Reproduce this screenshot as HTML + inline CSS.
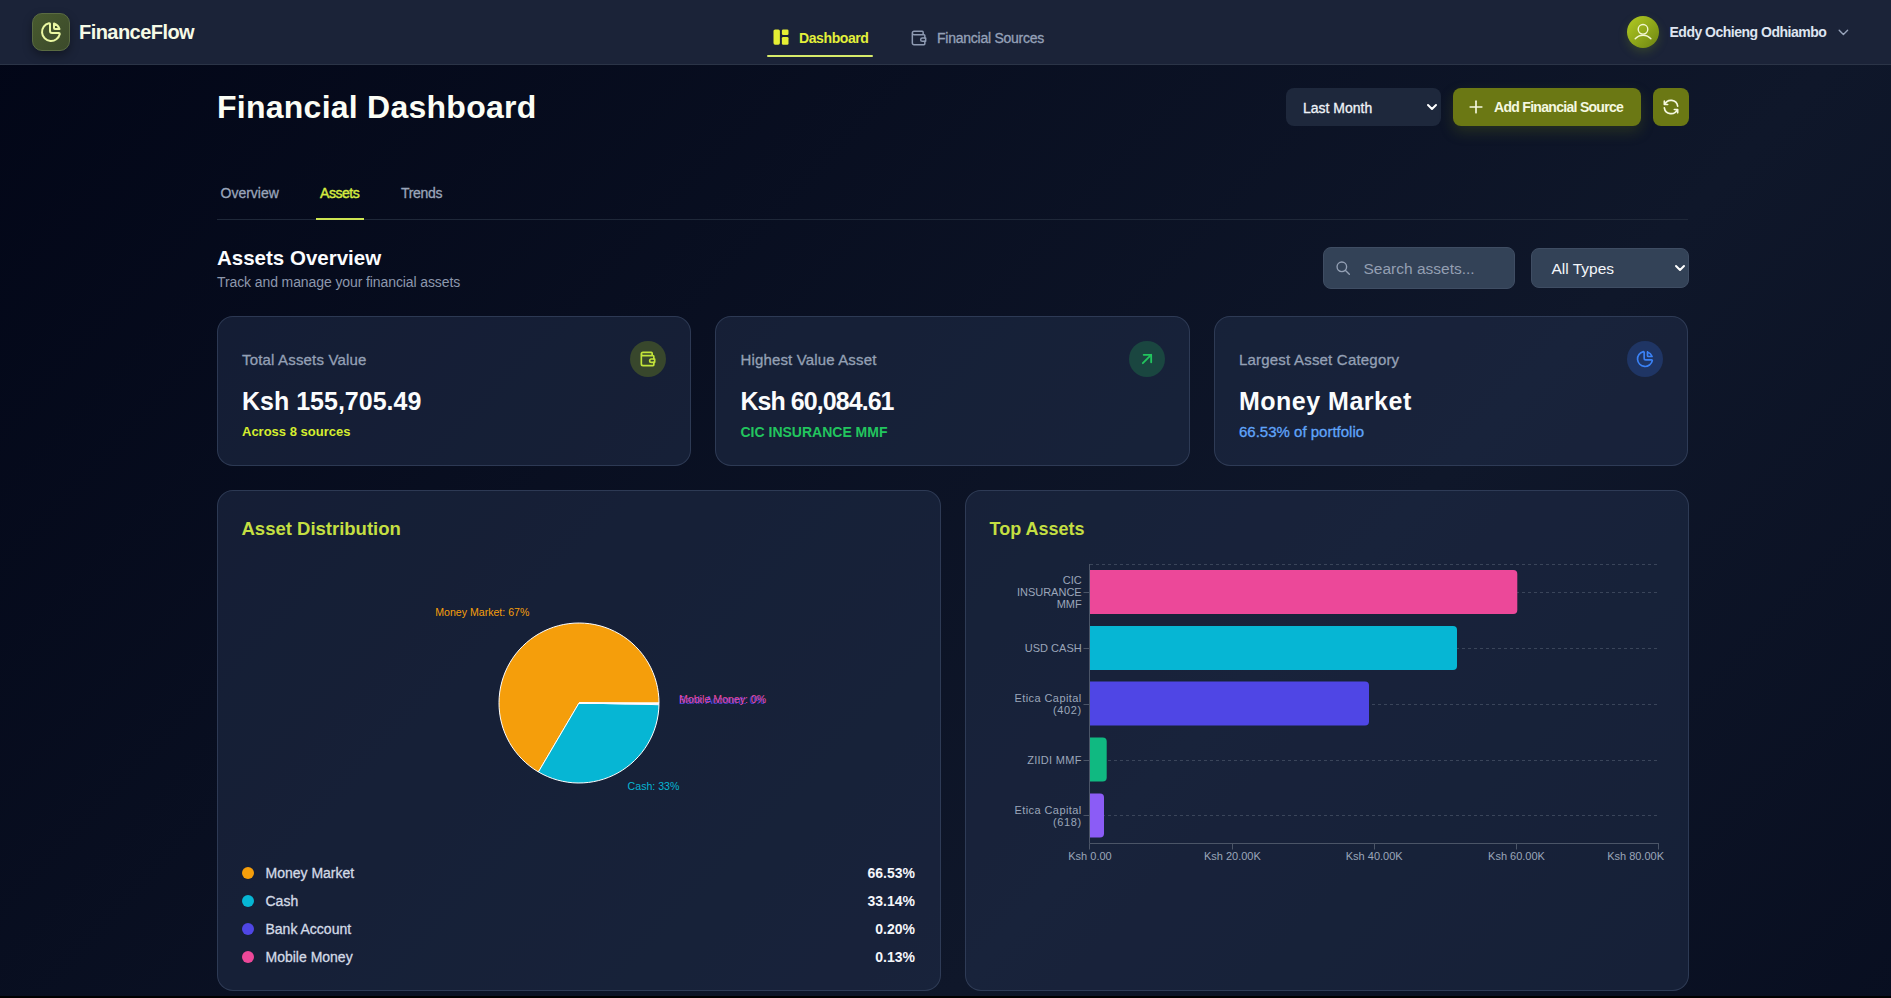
<!DOCTYPE html>
<html lang="en">
<head>
<meta charset="utf-8">
<title>FinanceFlow - Financial Dashboard</title>
<style>
*{box-sizing:border-box;margin:0;padding:0}
html,body{width:1891px;height:998px;overflow:hidden;background:#000}
body{position:relative;font-family:"Liberation Sans",Arial,sans-serif;color:#fff}
#bgw{position:absolute;left:0;top:0;width:1891px;height:996px;overflow:hidden}
#bg{position:absolute;left:0;top:0;width:1891px;height:2000px;background:linear-gradient(to bottom right,#020617,#0f172a,#020617)}
.a{position:absolute}
.t{position:absolute;line-height:1;white-space:nowrap}
.m{-webkit-text-stroke:0.3px currentColor}
header{position:absolute;left:0;top:0;width:1891px;height:65px;background:#1b2338;border-bottom:1px solid #2b3447}
.card{position:absolute;border-radius:16px;background:rgba(32,45,72,.55);border:1px solid rgba(75,90,120,.45)}
</style>
</head>
<body>
<div id="bgw"><div id="bg"></div></div>

<header>
  <!-- logo -->
  <div class="a" style="left:32px;top:13px;width:38px;height:38px;border-radius:10px;background:linear-gradient(135deg,#485a2e,#3b4a2b);border:1px solid #5a6b42;box-shadow:0 4px 10px rgba(0,0,0,.35)">
    <svg class="a" style="left:6px;top:6px" width="24" height="24" viewBox="0 0 24 24" fill="none" stroke-linecap="round" stroke-linejoin="round" stroke="#eaf7a2" stroke-width="2"><path d="M10 3.2a9 9 0 1 0 10.8 10.8a1 1 0 0 0 -1 -1h-6.8a2 2 0 0 1 -2 -2v-7a.9 .9 0 0 0 -1 -.8"/><path d="M15 3.5a9 9 0 0 1 5.5 5.5h-4.5a1 1 0 0 1 -1 -1v-4.5"/></svg>
  </div>
  <div class="t" style="left:79px;top:22px;font-size:20px;font-weight:bold;color:#f6fae6;letter-spacing:-0.55px">FinanceFlow</div>

  <!-- nav -->
  <svg class="a" style="left:773px;top:29px" width="16" height="16" viewBox="0 0 16 16" fill="#e4ee34"><rect x="0.5" y="0.4" width="6.4" height="15.3" rx="1.6"/><rect x="8.9" y="0.4" width="6.6" height="5.7" rx="1.3"/><rect x="8.9" y="8" width="6.6" height="7.7" rx="1.3"/></svg>
  <div class="t" style="left:799px;top:30.5px;font-size:14px;font-weight:bold;color:#e3f03a;letter-spacing:-0.4px">Dashboard</div>
  <div class="a" style="left:767px;top:55px;width:106px;height:2px;background:#d6ea6a;border-radius:1px"></div>

  <svg class="a" style="left:908.6px;top:27.8px" width="20" height="20" viewBox="0 0 24 24" fill="none" stroke-linecap="round" stroke-linejoin="round" stroke="#8f9bb3" stroke-width="1.8"><path d="M17 8v-3a1 1 0 0 0 -1 -1h-10a2 2 0 0 0 0 4h12a1 1 0 0 1 1 1v3m0 4v3a1 1 0 0 1 -1 1h-12a2 2 0 0 1 -2 -2v-12"/><path d="M20 12v4h-4a2 2 0 0 1 0 -4h4"/></svg>
  <div class="t m" style="left:937px;top:31px;font-size:14px;color:#95a1b8;letter-spacing:-0.25px">Financial Sources</div>

  <!-- user -->
  <div class="a" style="left:1627px;top:16px;width:32px;height:32px;border-radius:50%;background:linear-gradient(135deg,#b3cc22,#6d8412);box-shadow:0 4px 10px rgba(120,150,20,.25)">
    <svg class="a" style="left:0;top:0" width="32" height="32" viewBox="0 0 32 32" fill="none" stroke-linecap="round" stroke-linejoin="round" stroke="#f3f7d2" stroke-width="1.4"><circle cx="16" cy="13.3" r="4.8"/><path d="M8.2 22.8A10.4 10.4 0 0 1 23.9 22.8"/></svg>
  </div>
  <div class="t" style="left:1669.5px;top:24.5px;font-size:14px;font-weight:bold;color:#dfe5f0;letter-spacing:-0.5px">Eddy Ochieng Odhiambo</div>
  <svg class="a" style="left:1834.5px;top:23.7px" width="16.8" height="16.8" viewBox="0 0 24 24" fill="none" stroke-linecap="round" stroke-linejoin="round" stroke="#97a3ba" stroke-width="2"><path d="M6 9l6 6l6 -6"/></svg>
</header>

<div id="main">
  <div class="t" style="left:217px;top:91px;font-size:32px;font-weight:bold;color:#fbfdf5;letter-spacing:0.25px">Financial Dashboard</div>

  <!-- period select -->
  <div class="a" style="left:1286px;top:88px;width:155px;height:38px;border-radius:8px;background:#1e283c"></div>
  <div class="t m" style="left:1303px;top:100.5px;font-size:14px;color:#eef2f8">Last Month</div>
  <svg class="a" style="left:1426px;top:102px" width="12" height="10" viewBox="0 0 12 10" fill="none" stroke="#fff" stroke-width="2" stroke-linecap="round" stroke-linejoin="round"><path d="M2 3l4 4 4-4"/></svg>

  <!-- add button -->
  <div class="a" style="left:1453px;top:88px;width:188px;height:38px;border-radius:8px;background:#6b7814;box-shadow:0 6px 14px rgba(107,122,18,.25)"></div>
  <svg class="a" style="left:1466px;top:97px" width="20" height="20" viewBox="0 0 24 24" fill="none" stroke-linecap="round" stroke-linejoin="round" stroke="#f5f8e0" stroke-width="2"><path d="M12 5l0 14"/><path d="M5 12l14 0"/></svg>
  <div class="t" style="left:1494px;top:99.8px;font-size:14px;font-weight:bold;color:#f5f8e0;letter-spacing:-0.7px">Add Financial Source</div>

  <!-- refresh -->
  <div class="a" style="left:1653px;top:88px;width:36px;height:38px;border-radius:8px;background:#6b7814"></div>
  <svg class="a" style="left:1661px;top:96.9px" width="20" height="20" viewBox="0 0 24 24" fill="none" stroke-linecap="round" stroke-linejoin="round" stroke="#f5f8e0" stroke-width="2"><path d="M20 11a8.1 8.1 0 0 0 -15.5 -2m-.5 -4v4h4"/><path d="M4 13a8.1 8.1 0 0 0 15.5 2m.5 4v-4h-4"/></svg>

  <!-- tabs -->
  <div class="t m" style="left:220.5px;top:185.5px;font-size:14px;color:#9aa5ba">Overview</div>
  <div class="t" style="left:320px;top:185.5px;font-size:14px;color:#d6ec40;-webkit-text-stroke:0.45px #d6ec40;letter-spacing:-0.45px">Assets</div>
  <div class="t m" style="left:401px;top:185.5px;font-size:14px;color:#9aa5ba;letter-spacing:-0.3px">Trends</div>
  <div class="a" style="left:217px;top:219px;width:1471px;height:1px;background:#1f2839"></div>
  <div class="a" style="left:316px;top:218px;width:48px;height:2px;background:#cde452"></div>

  <!-- section header -->
  <div class="t" style="left:217px;top:248px;font-size:20.5px;font-weight:bold;color:#fbfcfe">Assets Overview</div>
  <div class="t" style="left:217px;top:275px;font-size:14px;color:#8d98ad;letter-spacing:-0.1px">Track and manage your financial assets</div>

  <div class="a" style="left:1323px;top:247px;width:192px;height:42px;border-radius:8px;background:#334257;border:1px solid #3f4d63"></div>
  <svg class="a" style="left:1334.65px;top:260.05px" width="16.4" height="16.4" viewBox="0 0 24 24" fill="none" stroke-linecap="round" stroke-linejoin="round" stroke="#94a0b4" stroke-width="2"><path d="M10 10m-7 0a7 7 0 1 0 14 0a7 7 0 1 0 -14 0"/><path d="M21 21l-6 -6"/></svg>
  <div class="t" style="left:1363.5px;top:261px;font-size:15.5px;color:#949fb2">Search assets...</div>

  <div class="a" style="left:1531px;top:248px;width:158px;height:40px;border-radius:8px;background:#334257;border:1px solid #3f4d63"></div>
  <div class="t" style="left:1551.5px;top:261px;font-size:15.5px;color:#f4f6fa">All Types</div>
  <svg class="a" style="left:1674px;top:263px" width="12" height="10" viewBox="0 0 12 10" fill="none" stroke="#fff" stroke-width="2" stroke-linecap="round" stroke-linejoin="round"><path d="M2 3l4 4 4-4"/></svg>

  <!-- stat cards -->
  <div class="card" style="left:217px;top:316px;width:474px;height:150px"></div>
  <div class="card" style="left:715px;top:316px;width:475px;height:150px"></div>
  <div class="card" style="left:1214px;top:316px;width:474px;height:150px"></div>

  <!-- card 1 -->
  <div class="t m" style="left:242px;top:351.5px;font-size:15px;color:#94a0b5;letter-spacing:0.17px">Total Assets Value</div>
  <div class="a" style="left:630px;top:341px;width:36px;height:36px;border-radius:50%;background:#38472c"></div>
  <svg class="a" style="left:637.75px;top:349px" width="20" height="20" viewBox="0 0 24 24" fill="none" stroke-linecap="round" stroke-linejoin="round" stroke="#c2e43a" stroke-width="2"><path d="M17 8v-3a1 1 0 0 0 -1 -1h-10a2 2 0 0 0 0 4h12a1 1 0 0 1 1 1v3m0 4v3a1 1 0 0 1 -1 1h-12a2 2 0 0 1 -2 -2v-12"/><path d="M20 12v4h-4a2 2 0 0 1 0 -4h4"/></svg>
  <div class="t" style="left:242px;top:389.3px;font-size:25px;font-weight:bold;color:#fbfcfd">Ksh 155,705.49</div>
  <div class="t" style="left:242px;top:425.4px;font-size:13px;font-weight:bold;color:#d6ee2e">Across 8 sources</div>

  <!-- card 2 -->
  <div class="t m" style="left:740.5px;top:351.5px;font-size:15px;color:#94a0b5;letter-spacing:0.15px">Highest Value Asset</div>
  <div class="a" style="left:1129px;top:341px;width:36px;height:36px;border-radius:50%;background:#1a4640"></div>
  <svg class="a" style="left:1136.9px;top:349px" width="20" height="20" viewBox="0 0 24 24" fill="none" stroke-linecap="round" stroke-linejoin="round" stroke="#22c55e" stroke-width="2.2"><path d="M17 7l-10 10"/><path d="M8 7l9 0l0 9"/></svg>
  <div class="t" style="left:740.5px;top:389.3px;font-size:25px;font-weight:bold;color:#fbfcfd;letter-spacing:-0.95px">Ksh 60,084.61</div>
  <div class="t" style="left:740.5px;top:424.5px;font-size:14px;font-weight:bold;color:#22c55e">CIC INSURANCE MMF</div>

  <!-- card 3 -->
  <div class="t m" style="left:1239px;top:351.5px;font-size:15px;color:#94a0b5;letter-spacing:0.2px">Largest Asset Category</div>
  <div class="a" style="left:1627px;top:341px;width:36px;height:36px;border-radius:50%;background:#1f3564"></div>
  <svg class="a" style="left:1634.8px;top:349px" width="20" height="20" viewBox="0 0 24 24" fill="none" stroke-linecap="round" stroke-linejoin="round" stroke="#3b82f6" stroke-width="2"><path d="M10 3.2a9 9 0 1 0 10.8 10.8a1 1 0 0 0 -1 -1h-6.8a2 2 0 0 1 -2 -2v-7a.9 .9 0 0 0 -1 -.8"/><path d="M15 3.5a9 9 0 0 1 5.5 5.5h-4.5a1 1 0 0 1 -1 -1v-4.5"/></svg>
  <div class="t" style="left:1239px;top:389.3px;font-size:25px;font-weight:bold;color:#fbfcfd;letter-spacing:0.5px">Money Market</div>
  <div class="t m" style="left:1239px;top:423.7px;font-size:15px;color:#60a5fa">66.53% of portfolio</div>

  <!-- chart cards -->
  <div class="card" style="left:217px;top:490px;width:724px;height:501px"></div>
  <div class="card" style="left:965px;top:490px;width:724px;height:501px"></div>

  <div class="t" style="left:241.5px;top:519.5px;font-size:18.5px;font-weight:bold;color:#c4df42">Asset Distribution</div>
  <div class="t" style="left:989.5px;top:520px;font-size:18px;font-weight:bold;color:#c4df42">Top Assets</div>

  <!-- pie -->
  <svg class="a" style="left:0;top:0;overflow:visible" width="1" height="1">
    <g stroke="#fff" stroke-width="1" stroke-linejoin="round">
      <path d="M579 703L659 703A80 80 0 1 0 538.41 771.94Z" fill="#f59e0b"/>
      <path d="M579 703L538.41 771.94A80 80 0 0 0 658.98 704.66Z" fill="#06b6d4"/>
      <path d="M579 703L658.98 704.66A80 80 0 0 0 659 703.65Z" fill="#4f46e5"/>
      <path d="M579 703L659 703.65A80 80 0 0 0 659 703Z" fill="#ec4899"/>
    </g>
    <g font-family="Liberation Sans, Arial, sans-serif" font-size="10.6">
      <text x="529.4" y="616.2" text-anchor="end" fill="#f59e0b">Money Market: 67%</text>
      <text x="627.6" y="790.4" text-anchor="start" fill="#06b6d4">Cash: 33%</text>
      <text x="679" y="704.4" text-anchor="start" fill="#4f46e5">Bank Account: 0%</text>
      <text x="679" y="703.4" text-anchor="start" fill="#ec4899">Mobile Money: 0%</text>
    </g>
  </svg>

  <!-- legend -->
  <div class="a" style="left:242px;top:867px;width:12px;height:12px;border-radius:50%;background:#f59e0b"></div>
  <div class="a" style="left:242px;top:895px;width:12px;height:12px;border-radius:50%;background:#06b6d4"></div>
  <div class="a" style="left:242px;top:923px;width:12px;height:12px;border-radius:50%;background:#4f46e5"></div>
  <div class="a" style="left:242px;top:951px;width:12px;height:12px;border-radius:50%;background:#ec4899"></div>
  <div class="t m" style="left:265.5px;top:866px;font-size:14px;color:#d3dae6">Money Market</div>
  <div class="t m" style="left:265.5px;top:894px;font-size:14px;color:#d3dae6">Cash</div>
  <div class="t m" style="left:265.5px;top:922px;font-size:14px;color:#d3dae6">Bank Account</div>
  <div class="t m" style="left:265.5px;top:950px;font-size:14px;color:#d3dae6">Mobile Money</div>
  <div class="t" style="right:976px;top:866px;font-size:14px;font-weight:bold;color:#f4f6fa">66.53%</div>
  <div class="t" style="right:976px;top:894px;font-size:14px;font-weight:bold;color:#f4f6fa">33.14%</div>
  <div class="t" style="right:976px;top:922px;font-size:14px;font-weight:bold;color:#f4f6fa">0.20%</div>
  <div class="t" style="right:976px;top:950px;font-size:14px;font-weight:bold;color:#f4f6fa">0.13%</div>

  <!-- bar chart -->
  <svg class="a" style="left:0;top:0;overflow:visible" width="1" height="1">
    <g stroke="#3a455a" stroke-width="1" stroke-dasharray="3 3">
      <path d="M1090 564.5H1658M1090 592.5H1658M1090 648.5H1658M1090 704.5H1658M1090 760.5H1658M1090 815.5H1658"/>
    </g>
    <path d="M1090 570h423.3a4 4 0 0 1 4 4v36a4 4 0 0 1-4 4H1090Z" fill="#ec4899"/>
    <path d="M1090 626h363a4 4 0 0 1 4 4v36a4 4 0 0 1-4 4H1090Z" fill="#06b6d4"/>
    <path d="M1090 681.5h275a4 4 0 0 1 4 4v36a4 4 0 0 1-4 4H1090Z" fill="#4f46e5"/>
    <path d="M1090 737.5h12.7a4 4 0 0 1 4 4v36a4 4 0 0 1-4 4H1090Z" fill="#10b981"/>
    <path d="M1090 793.5h10a4 4 0 0 1 4 4v36a4 4 0 0 1-4 4H1090Z" fill="#8b5cf6"/>
    <g stroke="#4b5567" stroke-width="1" fill="none">
      <path d="M1089.5 564V843.5M1089.5 843.5H1659M1089.5 843.5v6M1232.5 843.5v6M1374.5 843.5v6M1516.5 843.5v6M1658.5 843.5v6"/>
      <path d="M1083.5 592.5h6M1083.5 648.5h6M1083.5 704.5h6M1083.5 760.5h6M1083.5 815.5h6"/>
    </g>
    <g font-family="Liberation Sans, Arial, sans-serif" font-size="11" fill="#9ba6b9">
      <text x="1090" y="860" text-anchor="middle">Ksh 0.00</text>
      <text x="1232.4" y="860" text-anchor="middle">Ksh 20.00K</text>
      <text x="1374.2" y="860" text-anchor="middle">Ksh 40.00K</text>
      <text x="1516.5" y="860" text-anchor="middle">Ksh 60.00K</text>
      <text x="1664" y="860" text-anchor="end">Ksh 80.00K</text>
      <g text-anchor="end">
        <text x="1081.7" y="583.7">CIC</text>
        <text x="1081.7" y="595.7">INSURANCE</text>
        <text x="1081.7" y="607.7">MMF</text>
        <text x="1081.7" y="652">USD CASH</text>
        <text x="1081.7" y="702" letter-spacing="0.42">Etica Capital</text>
        <text x="1081.7" y="714" letter-spacing="0.6">(402)</text>
        <text x="1081.7" y="764" letter-spacing="0.29">ZIIDI MMF</text>
        <text x="1081.7" y="814" letter-spacing="0.42">Etica Capital</text>
        <text x="1081.7" y="826" letter-spacing="0.6">(618)</text>
      </g>
    </g>
  </svg>
</div>
<div class="a" style="left:0;top:996px;width:1891px;height:2px;background:#000"></div>
</body>
</html>
